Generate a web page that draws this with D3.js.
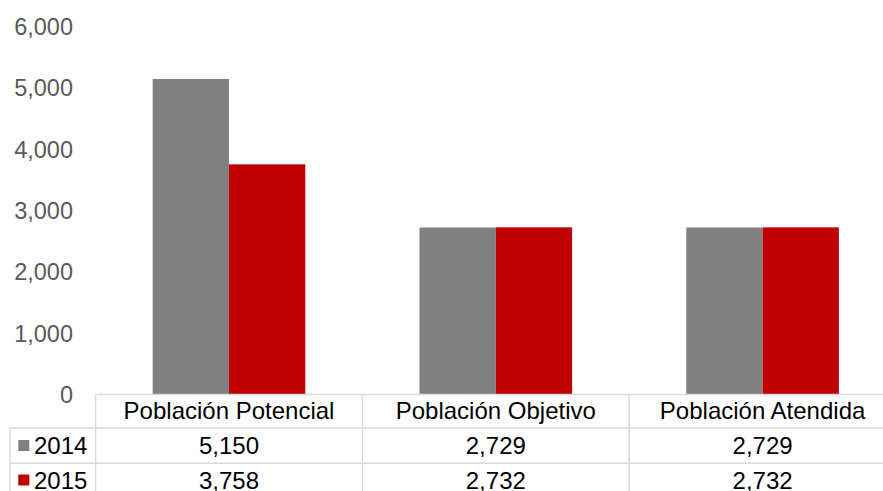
<!DOCTYPE html>
<html><head><meta charset="utf-8">
<script src="https://cdn.jsdelivr.net/npm/d3@7"></script>
<style>body{margin:0;background:#fff}svg{display:block}text{font-family:"Liberation Sans",Arial,sans-serif}</style>
</head><body>
<svg id="c" width="883" height="491"></svg>
<script>
const categories = ["Población Potencial", "Población Objetivo", "Población Atendida"];
const seriesNames = ["2014", "2015"];
const values2014 = [5150, 2729, 2729];
const values2015 = [3758, 2732, 2732];
const yTicks = [0, 1000, 2000, 3000, 4000, 5000, 6000];
const colors = ["#808080", "#c00000"];

(function () {
const svg = d3.select("#c");
const W = 883, H = 491;
const pLeft = 95.6, bandW = 266.8, pRight = 883, pTop = 26.8, base = 395;
const x = d3.scaleBand().domain(categories).range([pLeft, pLeft + 3 * bandW]).paddingInner(0).paddingOuter(0);
const xs = d3.scaleBand().domain(seriesNames).range([0, x.bandwidth()]).paddingInner(0).paddingOuter(0.748);
const y = d3.scaleLinear().domain([0, 6000]).range([base, pTop]);

const series = [values2014, values2015];
const fmt = d3.format(",");

const yAxis = d3.axisLeft(y).tickValues(yTicks).tickFormat(fmt).tickSize(0).tickPadding(0);
const ga = svg.append("g").attr("transform", `translate(73,0)`).call(yAxis);
ga.select(".domain").remove();
ga.selectAll("text").attr("fill", "#595959").style("font-size", "23.5px").style("font-family", '"Liberation Sans",Arial,sans-serif');

series.forEach((vals, si) => {
  svg.append("g").selectAll("rect").data(vals).join("rect")
    .attr("x", (d, i) => x(categories[i]) + xs(seriesNames[si]))
    .attr("width", xs.bandwidth())
    .attr("y", d => y(d))
    .attr("height", d => base - y(d))
    .attr("fill", colors[si]);
});

const lineC = "#d9d9d9";
const rowY = [394.5, 428, 463.3];
const colL = 10;
const tbl = svg.append("g").attr("stroke", lineC).attr("stroke-width", 1.4).attr("fill", "none");
tbl.append("line").attr("x1", x(categories[0])).attr("x2", pRight).attr("y1", rowY[0]).attr("y2", rowY[0]);
tbl.append("line").attr("x1", colL).attr("x2", pRight).attr("y1", rowY[1]).attr("y2", rowY[1]);
tbl.append("line").attr("x1", colL).attr("x2", pRight).attr("y1", rowY[2]).attr("y2", rowY[2]);
tbl.append("line").attr("x1", colL).attr("x2", colL).attr("y1", rowY[1]).attr("y2", H);
categories.forEach(c => {
  tbl.append("line").attr("x1", x(c)).attr("x2", x(c)).attr("y1", rowY[0]).attr("y2", H);
});

const tt = svg.append("g").style("font-size", "24px").attr("fill", "#000");
categories.forEach(c => {
  tt.append("text").attr("x", x(c) + x.bandwidth() / 2).attr("y", 418.5).attr("text-anchor", "middle").text(c);
});
series.forEach((vals, si) => {
  const yy = [454, 488.5][si];
  svg.append("rect").attr("x", 18.3).attr("y", yy - 14).attr("width", 11).attr("height", 11).attr("fill", colors[si]);
  tt.append("text").attr("x", 34).attr("y", yy).text(seriesNames[si]);
  vals.forEach((v, i) => {
    tt.append("text").attr("x", x(categories[i]) + x.bandwidth() / 2).attr("y", yy).attr("text-anchor", "middle").text(fmt(v));
  });
});
})();
</script>
</body></html>
